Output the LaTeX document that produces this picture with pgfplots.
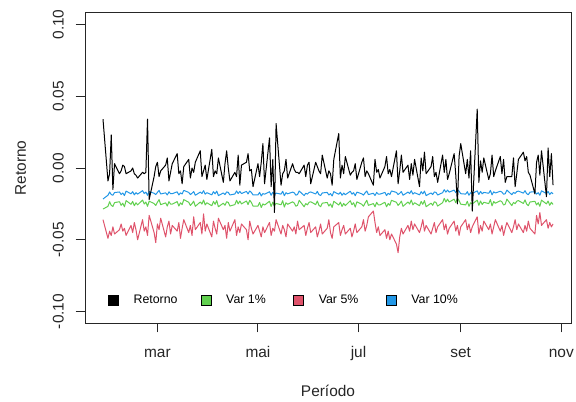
\documentclass[border=0pt]{standalone}
\usepackage{pgfplots}
\pgfplotsset{compat=1.18}
\usepackage{pgfplotstable}
\usepackage{fontspec}
\setmainfont{Liberation Sans}
\definecolor{rgreen}{HTML}{61D04F}
\definecolor{rred}{HTML}{DF536B}
\definecolor{rblue}{HTML}{2297E6}
\pgfplotstableread{
d r g p b
26 0.034 -0.0286 -0.036 -0.0216
29 -0.009 -0.0267 -0.049 -0.0190
30 -0.004 -0.0235 -0.044 -0.0167
31 0.023 -0.0260 -0.047 -0.0185
32 -0.015 -0.0268 -0.041 -0.0190
33 0.003 -0.0241 -0.046 -0.0171
36 -0.004 -0.0235 -0.043 -0.0167
37 -0.002 -0.0260 -0.039 -0.0185
38 0.002 -0.0245 -0.044 -0.0174
39 0.001 -0.0270 -0.042 -0.0192
40 -0.004 -0.0227 -0.047 -0.0161
43 -0.002 -0.0253 -0.040 -0.0180
44 0.000 -0.0233 -0.045 -0.0165
45 -0.004 -0.0263 -0.038 -0.0187
46 -0.005 -0.0242 -0.043 -0.0172
47 -0.007 -0.0257 -0.050 -0.0182
50 -0.003 -0.0223 -0.036 -0.0158
51 -0.004 -0.0251 -0.044 -0.0178
52 -0.003 -0.0237 -0.041 -0.0168
53 0.034 -0.0267 -0.047 -0.0190
54 -0.022 -0.0231 -0.033 -0.0164
57 -0.006 -0.0248 -0.045 -0.0176
58 0.001 -0.0261 -0.052 -0.0185
59 0.004 -0.0239 -0.039 -0.0170
60 -0.006 -0.0220 -0.043 -0.0156
61 -0.002 -0.0255 -0.035 -0.0181
64 0.002 -0.0243 -0.048 -0.0173
65 0.007 -0.0265 -0.041 -0.0188
66 -0.009 -0.0234 -0.037 -0.0166
67 -0.003 -0.0252 -0.046 -0.0179
68 0.003 -0.0252 -0.040 -0.0179
71 0.010 -0.0234 -0.044 -0.0166
72 -0.004 -0.0265 -0.038 -0.0188
73 -0.002 -0.0243 -0.049 -0.0173
74 -0.011 -0.0255 -0.042 -0.0181
75 0.001 -0.0220 -0.036 -0.0156
78 0.006 -0.0239 -0.045 -0.0170
79 -0.007 -0.0261 -0.040 -0.0185
80 0.000 -0.0248 -0.047 -0.0176
81 -0.003 -0.0231 -0.034 -0.0164
82 0.004 -0.0267 -0.043 -0.0190
85 0.012 -0.0237 -0.038 -0.0168
86 -0.006 -0.0251 -0.046 -0.0178
87 -0.002 -0.0223 -0.032 -0.0158
88 0.002 -0.0257 -0.044 -0.0182
89 -0.008 -0.0242 -0.039 -0.0172
92 0.013 -0.0263 -0.048 -0.0187
93 -0.006 -0.0233 -0.037 -0.0165
94 -0.002 -0.0253 -0.042 -0.0180
95 -0.004 -0.0227 -0.046 -0.0161
96 0.007 -0.0270 -0.035 -0.0192
99 -0.010 -0.0245 -0.043 -0.0174
100 0.003 -0.0260 -0.040 -0.0185
101 0.012 -0.0235 -0.049 -0.0167
102 0.000 -0.0240 -0.038 -0.0170
103 -0.009 -0.0265 -0.044 -0.0188
106 -0.003 -0.0255 -0.036 -0.0181
107 -0.006 -0.0225 -0.047 -0.0160
108 0.009 -0.0250 -0.041 -0.0178
109 -0.012 -0.0230 -0.045 -0.0163
110 0.002 -0.0250 -0.039 -0.0178
113 0.004 -0.0230 -0.043 -0.0163
114 0.010 -0.0255 -0.050 -0.0181
115 -0.002 -0.0225 -0.037 -0.0160
116 -0.001 -0.0240 -0.042 -0.0170
117 -0.013 -0.0265 -0.046 -0.0188
120 0.003 -0.0265 -0.040 -0.0188
121 -0.006 -0.0240 -0.044 -0.0170
122 0.004 -0.0275 -0.048 -0.0195
123 0.017 -0.0250 -0.041 -0.0178
124 -0.011 -0.0258 -0.045 -0.0183
127 0.021 -0.0232 -0.038 -0.0165
128 -0.013 -0.0268 -0.047 -0.0190
129 0.006 -0.0238 -0.042 -0.0169
130 -0.031 -0.0262 -0.044 -0.0186
131 0.031 -0.0247 -0.036 -0.0175
134 -0.012 -0.0256 -0.046 -0.0182
135 -0.004 -0.0228 -0.040 -0.0162
136 -0.002 -0.0272 -0.043 -0.0193
137 0.006 -0.0242 -0.048 -0.0172
138 -0.007 -0.0253 -0.039 -0.0180
141 0.003 -0.0236 -0.044 -0.0168
142 -0.001 -0.0244 -0.041 -0.0173
143 -0.003 -0.0266 -0.046 -0.0189
144 -0.003 -0.0260 -0.037 -0.0185
145 -0.004 -0.0225 -0.043 -0.0160
148 0.002 -0.0270 -0.040 -0.0192
149 -0.006 -0.0248 -0.047 -0.0176
150 0.002 -0.0257 -0.042 -0.0182
151 0.004 -0.0239 -0.038 -0.0170
152 -0.011 -0.0235 -0.045 -0.0167
155 0.004 -0.0255 -0.041 -0.0181
156 0.001 -0.0230 -0.048 -0.0163
157 -0.002 -0.0260 -0.044 -0.0185
158 -0.004 -0.0270 -0.039 -0.0192
159 0.009 -0.0245 -0.046 -0.0174
162 -0.007 -0.0240 -0.042 -0.0170
163 -0.002 -0.0265 -0.036 -0.0188
164 -0.004 -0.0250 -0.045 -0.0178
165 -0.012 -0.0275 -0.049 -0.0195
166 0.006 -0.0232 -0.041 -0.0165
169 0.024 -0.0258 -0.038 -0.0183
170 -0.007 -0.0238 -0.047 -0.0169
171 0.002 -0.0268 -0.043 -0.0190
172 -0.004 -0.0247 -0.040 -0.0175
173 0.008 -0.0262 -0.046 -0.0186
176 -0.005 -0.0228 -0.042 -0.0162
177 -0.003 -0.0256 -0.048 -0.0182
178 -0.002 -0.0242 -0.044 -0.0172
179 0.003 -0.0272 -0.039 -0.0193
180 -0.008 -0.0236 -0.045 -0.0168
183 0.004 -0.0253 -0.041 -0.0180
184 0.007 -0.0266 -0.036 -0.0189
185 -0.006 -0.0244 -0.044 -0.0173
186 -0.002 -0.0225 -0.040 -0.0160
187 -0.004 -0.0260 -0.034 -0.0185
190 -0.012 -0.0248 -0.030 -0.0176
191 0.006 -0.0270 -0.038 -0.0192
192 -0.003 -0.0239 -0.045 -0.0170
193 -0.001 -0.0257 -0.041 -0.0182
194 -0.007 -0.0257 -0.047 -0.0182
197 0.001 -0.0239 -0.043 -0.0170
198 0.008 -0.0270 -0.049 -0.0192
199 -0.004 -0.0248 -0.044 -0.0176
200 -0.001 -0.0260 -0.050 -0.0185
201 -0.006 -0.0225 -0.046 -0.0160
204 0.012 -0.0239 -0.053 -0.0170
205 -0.011 -0.0261 -0.059 -0.0185
206 -0.002 -0.0248 -0.048 -0.0176
207 0.009 -0.0231 -0.042 -0.0164
208 -0.003 -0.0267 -0.046 -0.0190
211 0.002 -0.0237 -0.040 -0.0168
212 -0.008 -0.0251 -0.044 -0.0178
213 0.003 -0.0223 -0.037 -0.0158
214 -0.005 -0.0257 -0.043 -0.0182
215 0.006 -0.0242 -0.039 -0.0172
218 -0.013 -0.0263 -0.045 -0.0187
219 0.007 -0.0233 -0.041 -0.0165
220 -0.002 -0.0253 -0.036 -0.0180
221 0.011 -0.0227 -0.044 -0.0161
222 -0.004 -0.0270 -0.040 -0.0192
225 0.001 -0.0245 -0.046 -0.0174
226 0.008 -0.0260 -0.042 -0.0185
227 -0.006 -0.0235 -0.038 -0.0167
228 -0.003 -0.0240 -0.045 -0.0170
229 -0.010 -0.0265 -0.041 -0.0188
232 0.009 -0.0242 -0.036 -0.0172
233 -0.003 -0.0212 -0.043 -0.0151
234 0.006 -0.0237 -0.039 -0.0168
235 -0.008 -0.0217 -0.046 -0.0154
236 -0.004 -0.0237 -0.042 -0.0168
239 0.010 -0.0217 -0.037 -0.0154
240 -0.005 -0.0242 -0.044 -0.0172
241 -0.025 -0.0212 -0.040 -0.0151
242 0.008 -0.0227 -0.047 -0.0161
243 0.017 -0.0252 -0.041 -0.0179
246 -0.004 -0.0257 -0.036 -0.0182
247 0.006 -0.0232 -0.043 -0.0165
248 -0.007 -0.0267 -0.039 -0.0190
249 0.012 -0.0242 -0.045 -0.0172
250 -0.030 -0.0250 -0.041 -0.0178
253 0.041 -0.0224 -0.034 -0.0159
254 -0.010 -0.0260 -0.046 -0.0185
255 0.005 -0.0230 -0.040 -0.0163
256 -0.003 -0.0254 -0.044 -0.0180
257 0.007 -0.0239 -0.037 -0.0170
260 -0.008 -0.0248 -0.043 -0.0176
261 -0.004 -0.0220 -0.039 -0.0156
262 0.009 -0.0264 -0.046 -0.0187
263 -0.006 -0.0234 -0.041 -0.0166
264 -0.002 -0.0245 -0.036 -0.0174
267 0.008 -0.0228 -0.044 -0.0162
268 -0.004 -0.0236 -0.040 -0.0168
269 0.006 -0.0258 -0.047 -0.0183
270 -0.010 -0.0252 -0.042 -0.0179
271 -0.006 -0.0217 -0.038 -0.0154
274 -0.006 -0.0262 -0.045 -0.0186
275 0.007 -0.0240 -0.041 -0.0170
276 -0.013 -0.0249 -0.036 -0.0177
277 -0.004 -0.0231 -0.043 -0.0164
278 0.006 -0.0227 -0.039 -0.0161
281 0.011 -0.0247 -0.045 -0.0175
282 0.005 -0.0222 -0.040 -0.0158
283 0.008 -0.0252 -0.044 -0.0179
284 -0.003 -0.0262 -0.037 -0.0186
285 -0.005 -0.0237 -0.042 -0.0168
288 -0.018 -0.0232 -0.046 -0.0165
289 0.004 -0.0257 -0.033 -0.0182
290 0.009 -0.0242 -0.039 -0.0172
291 -0.005 -0.0267 -0.031 -0.0190
292 0.012 -0.0224 -0.040 -0.0159
295 -0.020 -0.0250 -0.036 -0.0178
296 0.014 -0.0230 -0.042 -0.0163
297 -0.006 -0.0260 -0.038 -0.0185
298 0.010 -0.0239 -0.041 -0.0170
299 -0.012 -0.0254 -0.039 -0.0180
}\datatable

\begin{document}
\begin{tikzpicture}[x=1bp,y=1bp]
\useasboundingbox (0,0) rectangle (576,401);
\begin{axis}[
  at={(85bp,78bp)}, anchor=south west,
  scale only axis, width=486bp, height=310bp,
  xmin=15.08, xmax=309.9, ymin=-0.108, ymax=0.108,
  axis line style={line width=1bp, black!85},
  tick style={line width=1bp, black!85},
  tick align=outside, major tick length=9.3bp,
  xtick pos=bottom, ytick pos=left,
  xtick={59,120,181,243,304}, xticklabels={mar,mai,jul,set,nov},
  ytick={-0.1,-0.05,0,0.05,0.1}, yticklabels={-0.10,-0.05,0.00,0.05,0.10},
  tick label style={font=\fontsize{15.5}{18}\selectfont, text=black!85},
  xticklabel style={anchor=north, inner sep=0pt, text height=11.1bp, text depth=3bp},
  xticklabel shift=13.7bp,
  yticklabel style={rotate=90, anchor=south, inner sep=0pt},
  yticklabel shift=11.7bp,
  label style={font=\fontsize{15.5}{18}\selectfont, text=black!85},
  xlabel={Período}, ylabel={Retorno},
  xlabel style={at={(axis description cs:0.5,-0.2355)}, anchor=base, inner sep=0pt},
  ylabel style={at={(axis description cs:-0.1215,0.5)}, anchor=base, inner sep=0pt},
  legend image code/.code={\draw[#1, draw=black, line width=0.6bp] (0bp,-5bp) rectangle (10bp,5bp);},
  legend columns=4,
  legend style={draw=none, fill=none, inner sep=0pt, outer sep=0pt,
    at={(axis description cs:0.0473,0.0742)}, anchor=west,
    font=\fontsize{12.4}{14}\selectfont,
    nodes={inner sep=0pt},
    /tikz/every odd column/.append style={column sep=15bp},
    /tikz/every even column/.append style={column sep=0bp}},
]
\addplot[rgreen, line width=1bp, line join=round, forget plot] table[x=d, y=g]{\datatable};
\addplot[rred, line width=1bp, line join=round, forget plot] table[x=d, y=p]{\datatable};
\addplot[rblue, line width=1bp, line join=round, forget plot] table[x=d, y=b]{\datatable};
\addplot[black, line width=1bp, line join=round, forget plot] table[x=d, y=r]{\datatable};
\addlegendimage{fill=black}
\addlegendentry{\makebox[67bp][l]{Retorno}}
\addlegendimage{fill=rgreen}
\addlegendentry{\makebox[67bp][l]{Var 1\%}}
\addlegendimage{fill=rred}
\addlegendentry{\makebox[67bp][l]{Var 5\%}}
\addlegendimage{fill=rblue}
\addlegendentry{\makebox[67bp][l]{Var 10\%}}
\end{axis}
\end{tikzpicture}
\end{document}
